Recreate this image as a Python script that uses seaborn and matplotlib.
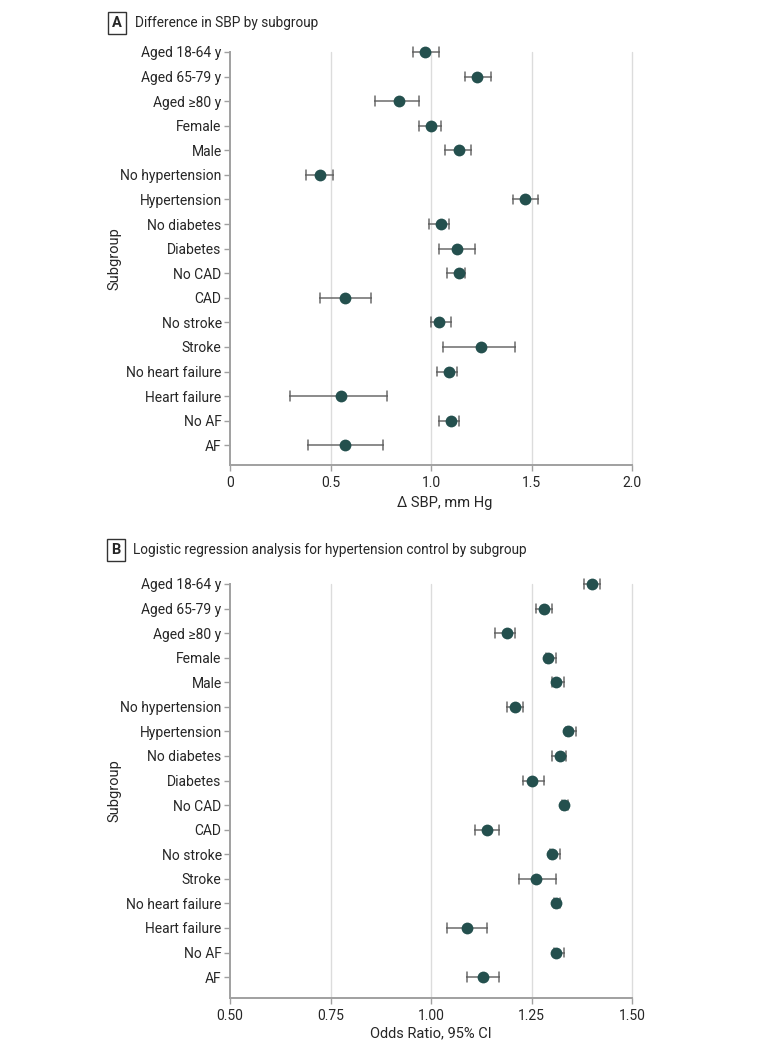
import numpy as np
import pandas as pd
import seaborn as sns
import matplotlib.pyplot as plt

sns.set_theme(style="white")
plt.rcParams['font.family'] = ['Roboto', 'DejaVu Sans']

subgroups = ["Aged 18-64 y", "Aged 65-79 y", "Aged \u226580 y", "Female", "Male",
             "No hypertension", "Hypertension", "No diabetes", "Diabetes",
             "No CAD", "CAD", "No stroke", "Stroke", "No heart failure",
             "Heart failure", "No AF", "AF"]

# panel A: difference in SBP (mm Hg)
sbp_est = [0.97, 1.23, 0.84, 1.00, 1.14, 0.45, 1.47, 1.05, 1.13, 1.14, 0.57, 1.04, 1.25, 1.09, 0.55, 1.10, 0.57]
sbp_lo = [0.91, 1.17, 0.72, 0.94, 1.07, 0.38, 1.41, 0.99, 1.04, 1.08, 0.45, 1.00, 1.06, 1.03, 0.30, 1.04, 0.39]
sbp_hi = [1.04, 1.30, 0.94, 1.05, 1.20, 0.51, 1.53, 1.09, 1.22, 1.17, 0.70, 1.10, 1.42, 1.13, 0.78, 1.14, 0.76]

# panel B: odds ratio for hypertension control
or_est = [1.40, 1.28, 1.19, 1.29, 1.31, 1.21, 1.34, 1.32, 1.25, 1.33, 1.14, 1.30, 1.26, 1.31, 1.09, 1.31, 1.13]
or_lo = [1.38, 1.26, 1.16, 1.285, 1.30, 1.19, 1.335, 1.30, 1.23, 1.325, 1.11, 1.295, 1.22, 1.305, 1.04, 1.305, 1.09]
or_hi = [1.42, 1.30, 1.21, 1.31, 1.33, 1.23, 1.36, 1.335, 1.28, 1.34, 1.17, 1.32, 1.31, 1.32, 1.14, 1.33, 1.17]

sbp_ticks = [0, 0.5, 1.0, 1.5, 2.0]
sbp_ticklabels = ["0", "0.5", "1.0", "1.5", "2.0"]
or_ticks = [0.50, 0.75, 1.00, 1.25, 1.50]
or_ticklabels = ["0.50", "0.75", "1.00", "1.25", "1.50"]

TEAL = "#24504e"
ERR = "#6b6b6b"
SPINE = "#a0a0a0"
GRID = "#dcdcdc"


def long_df(est, lo, hi):
    rows = []
    for s, e, l, h in zip(subgroups, est, lo, hi):
        for v in (l, e, h):
            rows.append({"subgroup": s, "value": v})
    return pd.DataFrame(rows)


def forest(ax, est, lo, hi, ticks, ticklabels, xlim, xlabel, label_pos, ybottom):
    df = long_df(est, lo, hi)
    for t in ticks[1:]:
        ax.axvline(t, color=GRID, lw=1.0, zorder=0)
    sns.pointplot(data=df, x="value", y="subgroup", order=subgroups,
                  estimator="median", errorbar=("pi", 100), orient="h",
                  linestyle="none", markers="o", markersize=8.5,
                  markeredgewidth=0, color=TEAL,
                  capsize=0.4, err_kws={"color": ERR, "linewidth": 1.1},
                  ax=ax)
    for ln in ax.lines:
        ln.set_clip_on(False)
        # dots above the interval lines
        if ln.get_marker() == "o":
            ln.set_zorder(4)
        else:
            ln.set_zorder(2)
    ax.set_xlim(*xlim)
    ax.set_ylim(ybottom, 0)
    ax.set_xticks(ticks)
    ax.set_xticklabels(ticklabels)
    ax.set_xlabel(xlabel, fontsize=10.5)
    ax.xaxis.set_label_coords(*label_pos)
    ax.set_ylabel("Subgroup", fontsize=10.5)
    ax.yaxis.set_label_coords(-0.27, 0.5)
    for side in ("top", "right"):
        ax.spines[side].set_visible(False)
    for side in ("left", "bottom"):
        ax.spines[side].set_color(SPINE)
        ax.spines[side].set_linewidth(1.4)
    ax.tick_params(axis="both", which="major", length=4, width=1.0,
                   color=SPINE, labelsize=10, pad=2)
    ax.tick_params(axis="x", pad=4)
    ax.tick_params(axis="y", left=True)
    ax.tick_params(axis="x", bottom=True)


fig = plt.figure(figsize=(7.8, 10.52), dpi=100)
ax_a = fig.add_axes([230 / 780, 1 - 465 / 1052, 402 / 780, 413 / 1052])
ax_b = fig.add_axes([230 / 780, 1 - 998 / 1052, 402 / 780, 414 / 1052])

forest(ax_a, sbp_est, sbp_lo, sbp_hi, sbp_ticks, sbp_ticklabels, (0, 2.0),
       "\u0394 SBP, mm Hg", ((445 - 230) / 402, -0.076), 16.8)
forest(ax_b, or_est, or_lo, or_hi, or_ticks, or_ticklabels, (0.5, 1.5),
       "Odds Ratio, 95% CI", (0.5, -0.068), 16.85)

box = dict(boxstyle="square,pad=0.3", fc="white", ec="#333333", lw=1.0)
fig.text(117 / 780, 1 - 23 / 1052, "A", fontsize=10.5, fontweight="bold",
         ha="center", va="center", bbox=box)
fig.text(135 / 780, 1 - 23 / 1052, "Difference in SBP by subgroup",
         fontsize=9.8, ha="left", va="center")
fig.text(116 / 780, 1 - 550 / 1052, "B", fontsize=10.5, fontweight="bold",
         ha="center", va="center", bbox=box)
fig.text(133 / 780, 1 - 550 / 1052,
         "Logistic regression analysis for hypertension control by subgroup",
         fontsize=9.8, ha="left", va="center")

fig.savefig("out.png", dpi=100)
